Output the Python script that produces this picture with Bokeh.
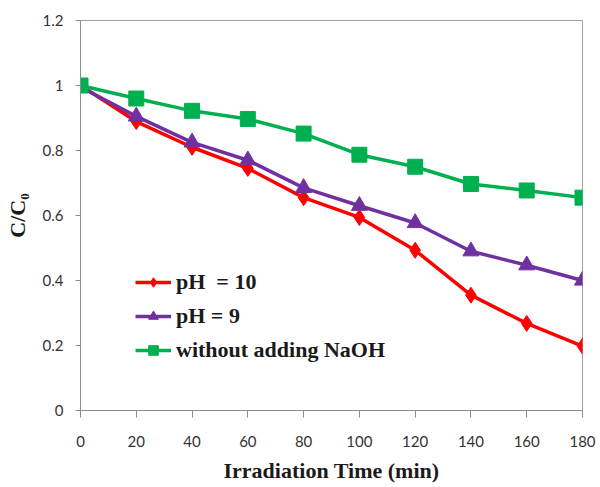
from bokeh.plotting import figure
from bokeh.models import Range1d, FixedTicker, Legend, LegendItem
from bokeh.embed import file_html
from bokeh.resources import INLINE

time_min = [0, 20, 40, 60, 80, 100, 120, 140, 160, 180]
ph10 = [1.0, 0.889, 0.81, 0.745, 0.655, 0.594, 0.493, 0.355, 0.268, 0.198]
ph9 = [0.995, 0.905, 0.825, 0.77, 0.685, 0.63, 0.577, 0.49, 0.447, 0.40]
no_naoh = [1.0, 0.96, 0.922, 0.897, 0.852, 0.787, 0.75, 0.697, 0.677, 0.655]

x_ticks = [0, 20, 40, 60, 80, 100, 120, 140, 160, 180]
y_ticks = [0, 0.2, 0.4, 0.6, 0.8, 1.0, 1.2]
y_tick_labels = ["0", "0.2", "0.4", "0.6", "0.8", "1", "1.2"]

series_labels = ["pH  = 10", "pH = 9", "without adding NaOH"]

p = figure(width=600, height=487, output_backend="svg", toolbar_location=None,
           x_range=Range1d(0, 180), y_range=Range1d(0, 1.2),
           min_border_left=80, min_border_right=18, min_border_top=20, min_border_bottom=77)
p.background_fill_color = "white"
p.border_fill_color = "white"
p.outline_line_color = "#a0a0a0"
p.outline_line_width = 1
p.xgrid.visible = False
p.ygrid.visible = False

red = "#ff0000"
purple = "#7030a0"
green = "#00b050"

r1l = p.line(time_min, ph10, line_color=red, line_width=3.5)
r1m = p.scatter(time_min, ph10, marker="diamond", size=16, fill_color=red, line_color=red)
r2l = p.line(time_min, ph9, line_color=purple, line_width=3.5)
r2m = p.scatter(time_min, ph9, marker="triangle", size=16, fill_color=purple, line_color=purple)
r3l = p.line(time_min, no_naoh, line_color=green, line_width=3.5)
r3m = p.scatter(time_min, no_naoh, marker="square", size=15, fill_color=green, line_color=green)

legend = Legend(items=[
    LegendItem(label=series_labels[0], renderers=[r1l, r1m]),
    LegendItem(label=series_labels[1], renderers=[r2l, r2m]),
    LegendItem(label=series_labels[2], renderers=[r3l, r3m]),
], location=(55, 47))
legend.border_line_color = None
legend.background_fill_alpha = 0
legend.label_text_font = "Liberation Serif"
legend.label_text_font_style = "bold"
legend.label_text_font_size = "22px"
legend.label_text_color = "#1a1a1a"
legend.glyph_width = 36
legend.glyph_height = 24
legend.label_height = 24
legend.spacing = 8
legend.padding = 2
legend.label_standoff = 5
p.add_layout(legend)

for ax in (p.xaxis, p.yaxis):
    ax.axis_line_color = "#8c8c8c"
    ax.major_tick_line_color = "#8c8c8c"
    ax.minor_tick_line_color = None
    ax.major_tick_in = 0
    ax.major_label_text_font = "Lato"
    ax.major_label_text_font_size = "15px"
    ax.major_label_text_color = "#333333"
    ax.axis_label_text_font = "Liberation Serif"
    ax.axis_label_text_font_style = "bold"
    ax.axis_label_text_font_size = "22px"
    ax.axis_label_text_color = "#1a1a1a"

p.xaxis.ticker = FixedTicker(ticks=x_ticks)
p.yaxis.ticker = FixedTicker(ticks=y_ticks)
p.yaxis.major_label_overrides = {t: l for t, l in zip(y_ticks, y_tick_labels)}
p.xaxis.major_tick_out = 7
p.yaxis.major_tick_out = 5
p.xaxis.major_label_standoff = 18
p.yaxis.major_label_standoff = 12
p.xaxis.axis_label = "Irradiation Time (min)"
p.yaxis.axis_label = "C/C\u2080"
p.xaxis.axis_label_standoff = 8
p.yaxis.axis_label_standoff = 10

open("out.html", "w").write(file_html(p, INLINE))
